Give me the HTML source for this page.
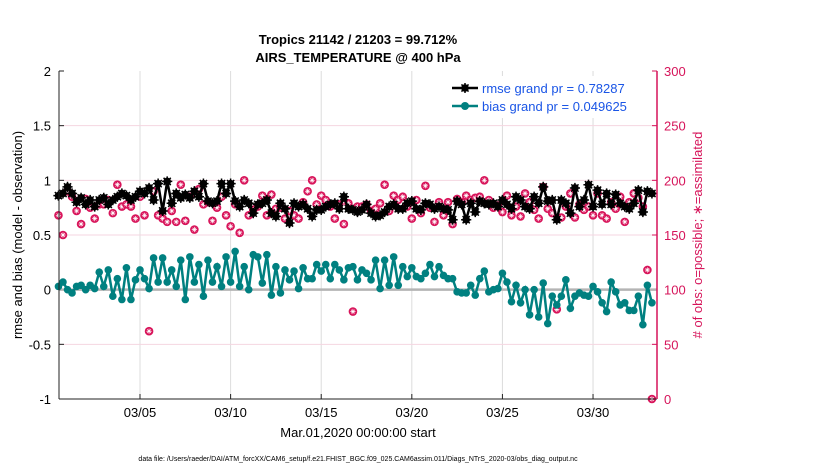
<!DOCTYPE html>
<html><head><meta charset="utf-8"><style>
body{margin:0;background:#fff;font-family:"Liberation Sans",sans-serif}
svg text{font-family:"Liberation Sans",sans-serif}
</style></head><body>
<svg id="c" width="830" height="470" viewBox="0 0 830 470">
<text x="358" y="44" text-anchor="middle" font-size="13" font-weight="bold">Tropics 21142 / 21203 = 99.712%</text>
<text x="358" y="62" text-anchor="middle" font-size="13" font-weight="bold">AIRS_TEMPERATURE @ 400 hPa</text>
<text x="358" y="437" text-anchor="middle" font-size="13">Mar.01,2020 00:00:00 start</text>
<text transform="translate(22,235) rotate(-90)" text-anchor="middle" font-size="13">rmse and bias (model - observation)</text>
<text transform="translate(702,235) rotate(-90)" text-anchor="middle" font-size="13" fill="#d6145a"># of obs: o=possible; ∗=assimilated</text>
<text x="358" y="461" text-anchor="middle" font-size="7">data file: /Users/raeder/DAI/ATM_forcXX/CAM6_setup/f.e21.FHIST_BGC.f09_025.CAM6assim.011/Diags_NTrS_2020-03/obs_diag_output.nc</text>
<g id="g"></g>
</svg>
<script>
const rmse=[0.86,0.88,0.94,0.88,0.80,0.84,0.78,0.82,0.76,0.82,0.84,0.78,0.82,0.85,0.88,0.86,0.82,0.85,0.90,0.88,0.93,0.82,0.97,0.72,0.99,0.79,0.88,0.84,0.87,0.84,0.90,0.85,0.97,0.81,0.79,0.81,0.97,0.88,0.97,0.81,0.76,0.82,0.79,0.70,
0.78,0.79,0.82,0.70,0.67,0.79,0.74,0.61,0.79,0.76,0.78,0.74,0.67,0.73,0.73,0.76,0.78,0.79,0.74,0.85,0.74,0.73,0.71,0.73,0.78,0.70,0.67,0.68,0.71,0.76,0.78,0.74,0.74,0.79,0.81,0.74,0.73,0.79,0.78,0.74,0.76,0.74,0.73,0.64,0.81,0.78,
0.64,0.79,0.71,0.81,0.79,0.78,0.79,0.76,0.82,0.78,0.74,0.85,0.82,0.76,0.74,0.85,0.79,0.94,0.81,0.82,0.64,0.82,0.79,0.70,0.93,0.76,0.82,0.96,0.76,0.91,0.78,0.88,0.78,0.87,0.79,0.76,0.74,0.79,0.91,0.71,0.90,0.88];
const bias=[0.03,0.07,0.00,-0.03,0.03,0.04,0.0,0.04,0.01,0.16,0.03,0.18,-0.06,0.10,-0.09,0.2,-0.09,0.09,0.18,0.10,0.01,0.29,0.07,0.29,0.07,0.18,0.03,0.27,-0.09,0.30,0.07,0.23,-0.06,0.27,0.07,0.21,0.03,0.30,0.07,0.35,0.03,0.21,0.0,0.32,
0.30,0.06,0.32,-0.05,0.21,-0.03,0.18,0.09,0.17,0.01,0.20,0.10,0.10,0.23,0.17,0.23,0.10,0.23,0.18,0.09,0.20,0.21,0.09,0.18,0.15,0.09,0.27,0.01,0.27,0.04,0.30,0.04,0.21,0.12,0.20,0.12,0.10,0.15,0.23,0.12,0.21,0.13,0.10,0.10,-0.02,-0.03,
-0.03,0.04,-0.05,0.10,0.17,-0.02,0.0,0.01,0.15,0.07,-0.11,0.04,-0.12,0.0,-0.23,0.0,-0.25,0.06,-0.31,-0.06,-0.14,-0.06,0.09,-0.17,-0.06,-0.03,-0.05,-0.06,0.03,-0.02,-0.12,-0.20,0.07,-0.02,-0.14,-0.12,-0.19,-0.19,-0.06,-0.32,0.04,-0.12];
const obs=[168,150,190,185,172,160,183,175,165,178,178,182,170,196,176,178,176,165,185,168,62,190,168,165,162,172,162,196,163,185,155,192,178,180,163,175,185,168,158,178,152,200,168,173,
176,186,168,187,174,175,165,172,168,165,180,190,200,178,186,182,176,165,178,160,179,80,176,176,178,172,174,179,196,172,186,182,185,176,165,182,170,195,175,162,180,168,180,160,183,180,
186,182,184,185,200,182,175,177,171,186,168,176,167,188,180,173,165,194,174,170,82,166,176,188,166,178,173,176,168,188,168,165,180,174,185,162,180,188,184,176,118,0];
const xTicks=[5,10,15,20,25,30];
const xTickLabels=["03/05","03/10","03/15","03/20","03/25","03/30"];
const yTicks=[-1,-0.5,0,0.5,1,1.5,2];
const rTicks=[0,50,100,150,200,250,300];
const L=59,R=657,T=71,B=399,d0=0.53,d1=33.53;
const X=d=>L+(d-d0)/(d1-d0)*(R-L);
const Y=v=>B-(v+1)/3*(B-T);
const YR=v=>B-v/300*(B-T);
const tOf=k=>0.5+k*0.25;
const g=document.getElementById('g');
const NS='http://www.w3.org/2000/svg';
function mk(tag,at,parent){const e=document.createElementNS(NS,tag);for(const k in at)e.setAttribute(k,at[k]);(parent||g).appendChild(e);return e;}
function star(cx,cy,r,col,w,parent){
 let d='';for(let a=0;a<4;a++){const an=a*Math.PI/4;const dx=r*Math.cos(an),dy=r*Math.sin(an);d+=`M${cx-dx} ${cy-dy}L${cx+dx} ${cy+dy}`;}
 return mk('path',{d:d,stroke:col,'stroke-width':w},parent);
}
xTicks.forEach((d,i)=>{
 const l=mk('line',{x1:X(d),x2:X(d),y1:T,y2:B,stroke:'#dcdcdc','stroke-width':1});
 
 
 mk('line',{x1:X(d),x2:X(d),y1:B,y2:B-5,stroke:'#222'});
 const t=mk('text',{x:X(d),y:B+18,'text-anchor':'middle','font-size':13});
 t.textContent=xTickLabels[i];
 
 
});
yTicks.forEach(v=>{
 if(v!==-1&&v!==2&&v!==0){const l=mk('line',{x1:L,x2:R,y1:Y(v),y2:Y(v),stroke:'#f4d6e1','stroke-width':1});
 
 }
 mk('line',{x1:L,x2:L+5,y1:Y(v),y2:Y(v),stroke:'#222'});
 const t=mk('text',{x:L-8,y:Y(v)+5,'text-anchor':'end','font-size':13});
 t.textContent=String(v);
 
 
});
rTicks.forEach(v=>{
 mk('line',{x1:R,x2:R-5,y1:YR(v),y2:YR(v),stroke:'#d6145a'});
 const t=mk('text',{x:R+7,y:YR(v)+5,'font-size':13,fill:'#d6145a'});
 t.textContent=String(v);
 
 
});
const zl=mk('line',{x1:L,x2:R,y1:Y(0),y2:Y(0),stroke:'#b4b4b4','stroke-width':2.5});


obs.forEach((v,k)=>{
 const cx=X(tOf(k)),cy=YR(v);
 const c=mk('circle',{cx:cx,cy:cy,r:4.3,fill:'#d8145a'});
 
 
 star(cx,cy,2.6,'#fff',0.7);
});
function series(arr,col,r,name,st){
 const p=mk('polyline',{points:arr.map((v,k)=>X(tOf(k))+','+Y(v)).join(' '),fill:'none',stroke:col,'stroke-width':2.5});
 
 
 arr.forEach((v,k)=>{const c=mk('circle',{cx:X(tOf(k)),cy:Y(v),r:r,fill:col});
 
 
 if(st)star(X(tOf(k)),Y(v),r+1.3,col,1.5);});
}
series(bias,'#008080',3.8,'bias',false);
series(rmse,'#000',3.8,'rmse',true);
mk('line',{x1:L,x2:L,y1:T,y2:B,stroke:'#222','stroke-width':1});
mk('line',{x1:L,x2:R,y1:B,y2:B,stroke:'#222','stroke-width':1});
mk('line',{x1:R,x2:R,y1:T,y2:B,stroke:'#d6145a','stroke-width':1.5});
const lg=mk('g',{});


mk('rect',{x:447,y:76,width:205,height:42,fill:'#fff'},lg);
mk('line',{x1:452,x2:478,y1:88,y2:88,stroke:'#000','stroke-width':2.5},lg);
mk('circle',{cx:465,cy:88,r:3.8,fill:'#000'},lg);
star(465,88,5,'#000',1.5,lg);
const t1=mk('text',{x:482,y:93,'font-size':13,fill:'#1a55e6'},lg);t1.textContent='rmse grand pr = 0.78287';


mk('line',{x1:452,x2:478,y1:106,y2:106,stroke:'#008080','stroke-width':2.5},lg);
mk('circle',{cx:465,cy:106,r:4,fill:'#008080'},lg);
const t2=mk('text',{x:482,y:111,'font-size':13,fill:'#1a55e6'},lg);t2.textContent='bias grand pr = 0.049625';


</script>
</body></html>
